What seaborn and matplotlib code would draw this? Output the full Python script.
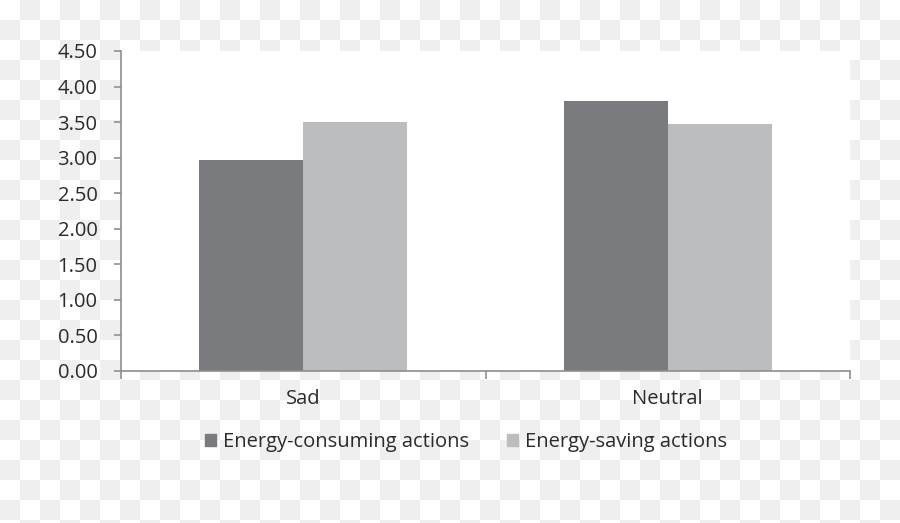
import numpy as np
import pandas as pd
import matplotlib
matplotlib.use("Agg")
import matplotlib.pyplot as plt
from matplotlib.colors import ListedColormap
import seaborn as sns

# Datos
condiciones = ["Sad", "Neutral"]
acciones = ["Energy-consuming actions", "Energy-saving actions"]
consumo = [2.97, 3.79]
ahorro = [3.50, 3.48]
yticks = [0.0, 0.5, 1.0, 1.5, 2.0, 2.5, 3.0, 3.5, 4.0, 4.5]

df = pd.DataFrame({
    "condicion": condiciones * 2,
    "accion": [acciones[0]] * 2 + [acciones[1]] * 2,
    "valor": consumo + ahorro,
})

colores = ["#7a7b7f", "#bcbdbf"]
texto = "#2b2b2b"
eje = "#8e8e8e"

sns.set_theme(style="white")
plt.rcParams["font.family"] = ["Open Sans", "DejaVu Sans"]

fig = plt.figure(figsize=(9, 5.23), dpi=100)

# Fondo a cuadros (transparencia)
bg = fig.add_axes([0, 0, 1, 1], zorder=-2)
patron = np.indices((27, 46)).sum(axis=0) % 2
bg.imshow(patron, cmap=ListedColormap(["#ffffff", "#efefef"]),
          extent=[0, 920, 540, 0], interpolation="nearest", aspect="auto")
bg.set_xlim(0, 900)
bg.set_ylim(523, 0)
bg.axis("off")

ax = fig.add_axes([121 / 900, 1 - 371 / 523, (850 - 121) / 900, (371 - 51) / 523])
ax.set_facecolor("white")

sns.barplot(data=df, x="condicion", y="valor", hue="accion", palette=colores,
            width=0.57, saturation=1, linewidth=0, ax=ax)

ax.set_xlim(-0.5, 1.5)
ax.set_ylim(0, 4.5)
ax.set_yticks(yticks)
ax.set_yticklabels([f"{v:.2f}" for v in yticks])
ax.set_xlabel("")
ax.set_ylabel("")

ax.set_xticks([-0.5, 0.5, 1.5], minor=True)
ax.tick_params(axis="x", which="major", length=0, pad=13, labelsize=14.5, labelcolor=texto)
ax.tick_params(axis="x", which="minor", length=6, width=1.2, color=eje, direction="out", bottom=True)
ax.tick_params(axis="y", length=5, width=1.2, color=eje, direction="out", left=True,
               pad=12, labelsize=14.5, labelcolor=texto)

sns.despine(ax=ax)
for s in ["left", "bottom"]:
    ax.spines[s].set_color(eje)
    ax.spines[s].set_linewidth(1.2)

ax.get_legend().remove()
handles = [plt.Rectangle((0, 0), 1, 1, color=c) for c in colores]
fig.legend(handles, acciones, loc="center", bbox_to_anchor=(0.518, 1 - 442 / 523),
           ncol=2, frameon=False, fontsize=14.5, labelcolor=texto,
           handlelength=0.55, handleheight=0.55, handletextpad=0.35, columnspacing=1.9)

fig.savefig("out.png", dpi=100)
